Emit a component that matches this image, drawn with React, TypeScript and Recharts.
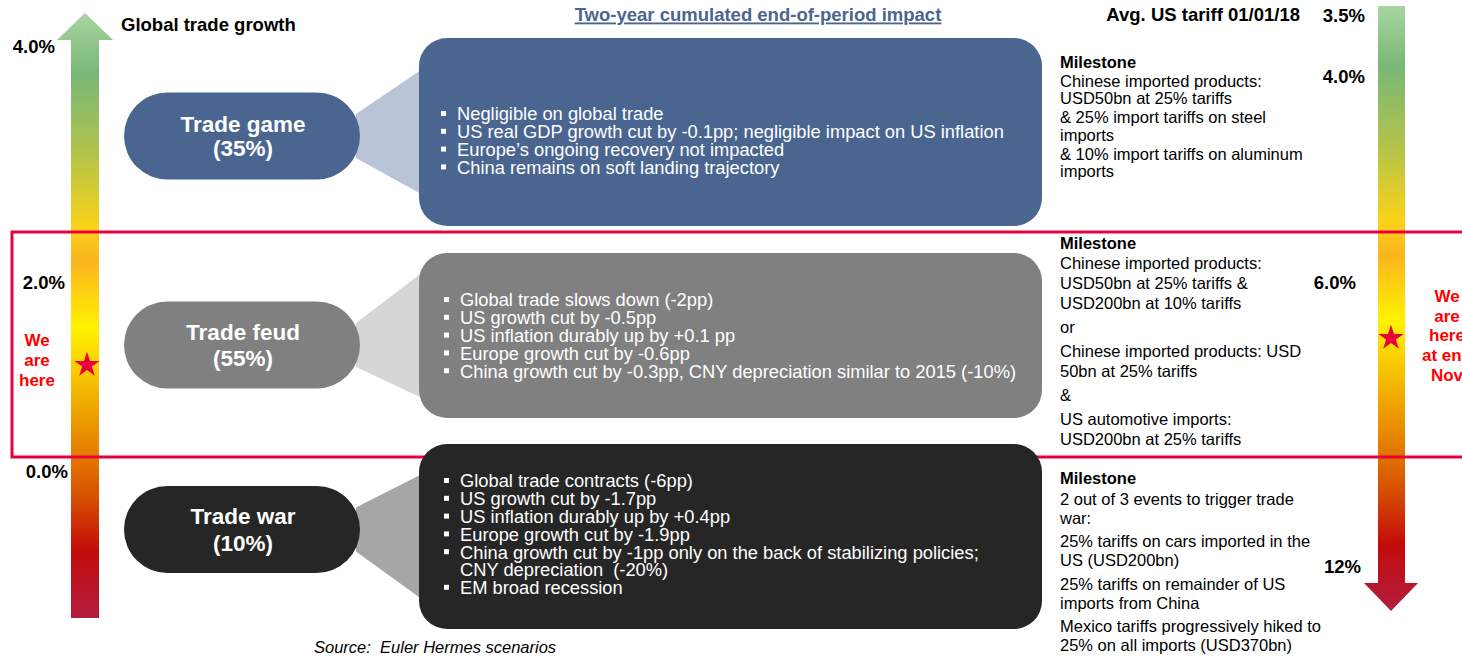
import React from 'react';
import { ComposedChart, Bar, XAxis, YAxis, Customized, Symbols } from 'recharts';

// ---- data ----
const scenarioNames = ['Trade game', 'Trade feud', 'Trade war'];
const probabilities = [35, 55, 10];
const impacts: string[][] = [
  [
    'Negligible on global trade',
    'US real GDP growth cut by -0.1pp; negligible impact on US inflation',
    'Europe\u2019s ongoing recovery not impacted',
    'China remains on soft landing trajectory',
  ],
  [
    'Global trade slows down (-2pp)',
    'US growth cut by -0.5pp',
    'US inflation durably up by +0.1 pp',
    'Europe growth cut by -0.6pp',
    'China growth cut by -0.3pp, CNY depreciation similar to 2015 (-10%)',
  ],
  [
    'Global trade contracts (-6pp)',
    'US growth cut by -1.7pp',
    'US inflation durably up by +0.4pp',
    'Europe growth cut by -1.9pp',
    'China growth cut by -1pp only on the back of stabilizing policies;\nCNY depreciation  (-20%)',
    'EM broad recession',
  ],
];
const milestones: string[][] = [
  [
    'Chinese imported products:\nUSD50bn at 25% tariffs',
    '& 25% import tariffs on steel\nimports',
    '& 10% import tariffs on aluminum\nimports',
  ],
  [
    'Chinese imported products:\nUSD50bn at 25% tariffs &\nUSD200bn at 10% tariffs',
    'or',
    'Chinese imported products: USD\n50bn at 25% tariffs',
    '&',
    'US automotive imports:\nUSD200bn at 25% tariffs',
  ],
  [
    '2 out of 3 events to trigger trade\nwar:',
    '25% tariffs on cars imported in the\nUS (USD200bn)',
    '25% tariffs on remainder of US\nimports from China',
    'Mexico tariffs progressively hiked to\n25% on all imports (USD370bn)',
  ],
];
const growthTicks = ['4.0%', '2.0%', '0.0%'];
const tariffTicks = ['3.5%', '4.0%', '6.0%', '12%'];
const currentScenario = 'Trade feud';
const hereLeft = ['We', 'are', 'here'];
const hereRight = ['We', 'are', 'here', 'at end', 'Nov'];

const data = scenarioNames.map((name, i) => ({
  name,
  probability: probabilities[i],
  impacts: impacts[i],
  milestone: milestones[i],
}));

// ---- layout / styles ----
const W = 1462;
const H = 657;
const FONT = '"Liberation Sans", Arial, Helvetica, sans-serif';
const RED = '#e8003d';

const ROW = [
  { box: '#4a6690', link: '#b9c4d6', boxH: 188, boxDy: 0, pillDy: 4, pillGap: 24, textTop: -18, textX: 457, msTop: -70, msHead: 19, msLine: 17.5, msPara: 19 },
  { box: '#808080', link: '#d6d6d6', boxH: 165, boxDy: 1.5, pillDy: 11, pillGap: 26, textTop: -34, textX: 460, msTop: -91, msHead: 20, msLine: 20, msPara: 24 },
  { box: '#262626', link: '#a6a6a6', boxH: 185, boxDy: 0.5, pillDy: -6.5, pillGap: 27, textTop: -55, textX: 460, msTop: -58, msHead: 21, msLine: 19, msPara: 23.5 },
];

const growthTickPos = [
  { x: 55, y: 47 },
  { x: 65, y: 283 },
  { x: 68, y: 472 },
];
const tariffTickPos = [
  { x: 1365, y: 16 },
  { x: 1365, y: 77 },
  { x: 1356, y: 283 },
  { x: 1361, y: 567 },
];

const gradStops: [number, string][] = [
  [0, '#a9d4a2'],
  [0.1, '#78b777'],
  [0.23, '#b1c34c'],
  [0.355, '#fad318'],
  [0.41, '#fbb41f'],
  [0.52, '#fff200'],
  [0.605, '#f7c200'],
  [0.705, '#e88a00'],
  [0.8, '#d65000'],
  [0.89, '#c30b0b'],
  [1, '#b21d3f'],
];

const ScenarioRow = (props: any) => {
  const { y, height, index, payload } = props;
  const st = ROW[index];
  const mid = y + height / 2;
  const pillCy = mid + st.pillDy;
  const boxCy = mid + st.boxDy;
  const pillL = 124;
  const pillR = 360;
  const pillH = 87;
  const boxL = 419;
  const boxR = 1042;

  const bullets: React.ReactNode[] = [];
  const lines: React.ReactNode[] = [];
  let ly = mid + st.textTop;
  payload.impacts.forEach((item: string, k: number) => {
    item.split('\n').forEach((ln, j) => {
      if (j === 0) {
        bullets.push(<rect key={`b${k}`} x={st.textX - 16} y={ly - 3} width={5} height={5} fill="#fff" />);
      }
      lines.push(
        <text key={`t${k}-${j}`} x={0} y={ly} dy="0.35em" fill="#fff" fontSize={18.5} style={{ whiteSpace: 'pre' }}>
          {ln}
        </text>
      );
      ly += 17.8;
    });
  });

  const ms: React.ReactNode[] = [];
  let my = mid + st.msTop;
  ms.push(
    <text key="h" x={1060} y={my} dy="0.35em" fontWeight="bold" fontSize={16.5} fill="#000">
      Milestone
    </text>
  );
  my += st.msHead;
  payload.milestone.forEach((para: string, k: number) => {
    para.split('\n').forEach((ln, j) => {
      if (j > 0) my += st.msLine;
      ms.push(
        <text key={`m${k}-${j}`} x={1060} y={my} dy="0.35em" fontSize={16.5} fill="#000">
          {ln}
        </text>
      );
    });
    my += st.msPara;
  });

  const isHere = payload.name === currentScenario;

  return (
    <g fontFamily={FONT}>
      <polygon
        points={`${pillR - 4},${pillCy - 22} ${boxL + 2},${boxCy - 62} ${boxL + 2},${boxCy + 62} ${pillR - 4},${pillCy + 22}`}
        fill={st.link}
      />
      <rect x={pillL} y={pillCy - pillH / 2} width={pillR - pillL} height={pillH} rx={pillH / 2} fill={st.box} />
      <text x={(pillL + pillR) / 2 + 1} y={pillCy - st.pillGap / 2} dy="0.35em" textAnchor="middle" fill="#fff" fontWeight="bold" fontSize={22.5}>
        {payload.name}
      </text>
      <text x={(pillL + pillR) / 2 + 1} y={pillCy + st.pillGap / 2} dy="0.35em" textAnchor="middle" fill="#fff" fontWeight="bold" fontSize={22.5}>
        ({payload.probability}%)
      </text>
      <rect x={boxL} y={boxCy - st.boxH / 2} width={boxR - boxL} height={st.boxH} rx={28} fill={st.box} />
      {bullets}
      <g transform={`translate(${st.textX} 0) scale(0.99 1)`}>{lines}</g>
      {ms}
      {isHere && (
        <g>
          <Symbols cx={87} cy={mid + 31} type="star" size={200} fill={RED} />
          <Symbols cx={1391} cy={mid + 4} type="star" size={200} fill={RED} />
          {hereLeft.map((t, i) => (
            <text key={`l${i}`} x={37} y={mid + 6 + i * 20} dy="0.35em" textAnchor="middle" fill="#ff0000" fontWeight="bold" fontSize={17}>
              {t}
            </text>
          ))}
          {hereRight.map((t, i) => (
            <text key={`r${i}`} x={1447} y={mid - 38 + i * 19.7} dy="0.35em" textAnchor="middle" fill="#ff0000" fontWeight="bold" fontSize={17}>
              {t}
            </text>
          ))}
        </g>
      )}
    </g>
  );
};

const Background = () => (
  <g fontFamily={FONT}>
    <defs>
      <linearGradient id="gLeft" gradientUnits="userSpaceOnUse" x1={0} y1={13} x2={0} y2={618}>
        {gradStops.map(([o, c]) => (
          <stop key={o} offset={o} stopColor={c} />
        ))}
      </linearGradient>
      <linearGradient id="gRight" gradientUnits="userSpaceOnUse" x1={0} y1={6} x2={0} y2={611}>
        {gradStops.map(([o, c]) => (
          <stop key={o} offset={o} stopColor={c} />
        ))}
      </linearGradient>
    </defs>
    {/* up arrow: global trade growth */}
    <polygon points="71,618 71,40 57,40 85,13 113,40 99,40 99,618" fill="url(#gLeft)" />
    {/* down arrow: average US tariff */}
    <polygon points="1378,6 1405,6 1405,583 1418,583 1391,611 1364,583 1378,583" fill="url(#gRight)" />

    <text x={121} y={25} dy="0.35em" fontWeight="bold" fontSize={18.5} fill="#000">
      Global trade growth
    </text>
    <text x={758} y={15} dy="0.35em" textAnchor="middle" fontWeight="bold" fontSize={18.5} fill="#4a6690" textDecoration="underline">
      Two-year cumulated end-of-period impact
    </text>
    <text x={1300} y={15} dy="0.35em" textAnchor="end" fontWeight="bold" fontSize={18.5} fill="#000">
      Avg. US tariff 01/01/18
    </text>
    {growthTicks.map((t, i) => (
      <text key={t} x={growthTickPos[i].x} y={growthTickPos[i].y} dy="0.35em" textAnchor="end" fontWeight="bold" fontSize={18.5} fill="#000">
        {t}
      </text>
    ))}
    {tariffTicks.map((t, i) => (
      <text key={`${t}-${i}`} x={tariffTickPos[i].x} y={tariffTickPos[i].y} dy="0.35em" textAnchor="end" fontWeight="bold" fontSize={18.5} fill="#000">
        {t}
      </text>
    ))}
    <text x={314} y={647} dy="0.35em" fontStyle="italic" fontSize={16.5} fill="#000" style={{ whiteSpace: 'pre' }}>
      Source:  Euler Hermes scenarios
    </text>
  </g>
);

const Frame = () => <rect x={12} y={232} width={1470} height={225} fill="none" stroke={RED} strokeWidth={3} />;

export default function App() {
  return (
    <div style={{ position: 'absolute', left: 0, top: 0, width: W, height: H, background: '#fff' }}>
      <ComposedChart
        width={W}
        height={H}
        data={data}
        layout="vertical"
        margin={{ top: 31, right: 0, bottom: 20, left: 0 }}
        barCategoryGap={0}
        style={{ fontFamily: FONT }}
      >
        <XAxis type="number" domain={[0, 100]} hide />
        <YAxis type="category" dataKey="name" hide />
        <Customized component={<Background />} />
        <Bar dataKey="probability" isAnimationActive={false} shape={(p: any) => <ScenarioRow {...p} />} />
        <Customized component={<Frame />} />
      </ComposedChart>
    </div>
  );
}
